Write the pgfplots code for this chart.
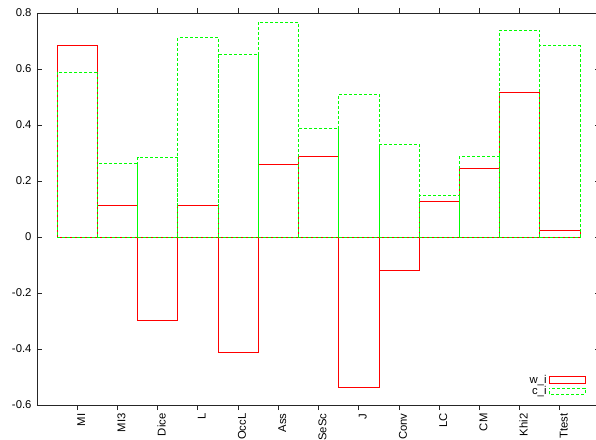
\documentclass[border=0pt]{standalone}
\usepackage{fontspec}
\setmainfont{Liberation Sans}
\usepackage{pgfplots}
\pgfplotsset{compat=1.18}
\definecolor{gpred}{RGB}{255,0,0}
\definecolor{gpgreen}{RGB}{0,255,0}
\begin{document}
\begin{tikzpicture}
\useasboundingbox (-37pt,-34pt) rectangle (559pt,405pt);
\begin{axis}[
  scale only axis,
  width=563pt, height=392pt,
  xmin=0, xmax=14,
  ymin=-0.6, ymax=0.8,
  ytick={-0.6,-0.4,...,0.8},
  xtick={1,...,13},
  xticklabels={MI,MI3,Dice,L,OccL,Ass,SeSc,J,Conv,LC,CM,Khi2,Ttest},
  tick align=inside,
  major tick length=5pt,
  axis line style={line width=0.8pt, black!85},
  every tick/.style={line width=0.8pt, black!85},
  /pgf/number format/assume math mode=true,
  yticklabel style={/pgf/number format/fixed,/pgf/number format/precision=1, xshift=-2pt},
  tick label style={font=\fontsize{11.3}{12}\selectfont},
  x tick label style={rotate=90, anchor=east, yshift=-4pt},
  ybar, bar width=1, bar shift=0pt,
  legend style={draw=none, fill=none, at={(axis cs:13.66,-0.483)}, anchor=north east,
    font=\fontsize{11.3}{11}\selectfont, row sep=-2.5pt, inner sep=1pt},
  legend plot pos=right,
  legend cell align=right,
  legend image code/.code={\draw[#1] (0pt,-3pt) rectangle (36pt,3.5pt);},
]
\addplot[draw=gpred, fill=none, line width=0.6pt] coordinates {
(1,0.685) (2,0.115) (3,-0.298) (4,0.113) (5,-0.412) (6,0.258) (7,0.287)
(8,-0.535) (9,-0.119) (10,0.126) (11,0.245) (12,0.515) (13,0.025)};
\addlegendentry{w\_i}
\addplot[draw=gpgreen, fill=none, line width=0.6pt, dash pattern=on 3pt off 2pt] coordinates {
(1,0.589) (2,0.264) (3,0.285) (4,0.712) (5,0.654) (6,0.767) (7,0.388)
(8,0.510) (9,0.331) (10,0.149) (11,0.287) (12,0.739) (13,0.683)};
\addlegendentry{c\_i}
\end{axis}
\end{tikzpicture}
\end{document}
